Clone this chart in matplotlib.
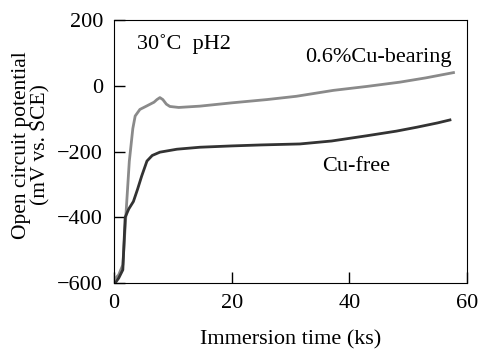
import matplotlib
matplotlib.use('Agg')
import matplotlib.pyplot as plt

plt.rcParams['font.family'] = ['Liberation Serif', 'DejaVu Serif']

# Cu-bearing steel (0.6% Cu)
cu_t = [0, 0.8, 1.5, 2.0, 2.6, 3.2, 3.6, 4.4, 5.5, 6.8, 7.3, 7.8, 8.3, 8.9, 9.5, 11, 14.6, 20, 26, 31, 37.3, 43, 48.6, 53, 57.7]
cu_e = [-590, -575, -545, -400, -230, -130, -92, -72, -62, -50, -42, -36, -42, -56, -63, -66, -62, -52, -42, -32, -14, -2, 11, 24, 40]

# Cu-free steel
free_t = [0, 0.8, 1.5, 1.9, 2.5, 3.3, 4.0, 4.7, 5.6, 6.5, 7.8, 10.7, 14.6, 20, 25, 31.6, 37, 43, 48, 51.5, 55, 57.1]
free_e = [-605, -585, -560, -400, -375, -352, -315, -275, -229, -212, -202, -193, -187, -183, -180, -177, -168, -152, -138, -126, -113, -104]

fig = plt.figure(figsize=(4.78, 3.51), dpi=100)
ax = fig.add_axes([0.2385, 0.1937, 0.7385, 0.7493])

ax.plot(cu_t, cu_e, color='#8a8a8a', lw=2)
ax.plot(free_t, free_e, color='#333333', lw=2)

ax.set_xlim(0, 60)
ax.set_ylim(-600, 200)
ax.set_xticks([0, 20, 40, 60])
ax.set_yticks([-600, -400, -200, 0, 200])
ax.tick_params(direction='in', length=8, labelsize=16, width=1, pad=8)

ax.text(3.9, 128, '30˚C  pH2', fontsize=16, va='center')
ax.text(32.5, 86, '0.6%Cu-bearing', fontsize=16, va='center')
ax.text(35.4, -245, 'Cu-free', fontsize=16, va='center')

ax.set_xlabel('Immersion time (ks)', fontsize=16, labelpad=12)
ax.set_ylabel('Open circuit potential\n(mV vs. SCE)', fontsize=15.5, linespacing=1.0)
ax.yaxis.set_label_coords(-0.18, 0.525)

fig.savefig('out.png', dpi=100)
